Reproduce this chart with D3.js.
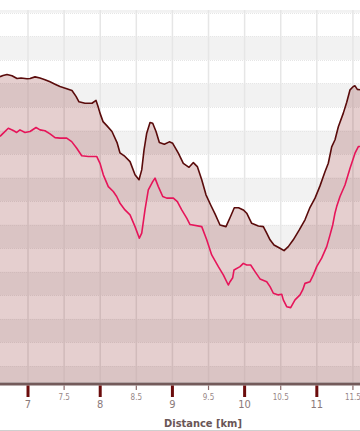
<!DOCTYPE html>
<html><head><meta charset="utf-8">
<script src="https://cdn.jsdelivr.net/npm/d3@7"></script>
<style>html,body{margin:0;padding:0;background:#fff;}svg{display:block;}</style>
</head><body>
<script>
// distance [km] for the upper (dark) profile
const upperKm = [6.612,6.654,6.709,6.778,6.848,6.903,6.986,7.028,7.097,7.166,7.235,7.305,7.374,7.443,7.526,7.609,7.665,7.706,7.789,7.886,7.942,7.970,7.997,8.039,8.094,8.163,8.233,8.274,8.343,8.413,8.482,8.537,8.575,8.607,8.644,8.690,8.727,8.773,8.819,8.888,8.957,9.004,9.082,9.151,9.230,9.290,9.345,9.406,9.465,9.530,9.590,9.659,9.742,9.805,9.857,9.916,9.982,10.029,10.098,10.190,10.259,10.306,10.352,10.407,10.490,10.546,10.605,10.674,10.757,10.836,10.906,10.975,11.044,11.113,11.159,11.206,11.252,11.298,11.367,11.414,11.460,11.505,11.529,11.561,11.598];
const upperVal = [132.9,133.4,133.8,133.3,132.1,132.3,132.0,132.1,132.8,132.3,131.6,130.7,129.7,128.7,127.9,127.0,124.5,122.2,121.6,121.6,122.8,120.2,117.4,113.8,112.0,109.6,104.9,100.5,99.0,96.8,91.2,89.1,93.3,101.8,108.9,113.4,113.1,109.6,104.9,104.2,105.2,104.6,100.4,96.1,94.4,96.4,94.7,89.1,82.7,78.4,74.6,69.9,69.2,73.5,77.2,77.2,76.3,74.9,70.6,69.5,69.2,66.4,63.6,61.4,60.0,59.0,60.7,63.6,67.8,72.1,77.4,81.3,86.5,92.5,96.1,103.1,106.1,111.6,117.4,122.0,127.3,128.7,129.0,127.5,127.3];
// distance [km] for the lower (crimson) line
const lowerKm = [6.612,6.658,6.727,6.796,6.843,6.889,6.958,7.028,7.111,7.166,7.235,7.305,7.374,7.443,7.536,7.605,7.675,7.744,7.835,7.951,7.997,8.043,8.112,8.181,8.228,8.274,8.343,8.413,8.482,8.542,8.575,8.620,8.666,8.727,8.759,8.805,8.866,8.921,9.013,9.068,9.129,9.198,9.244,9.406,9.475,9.544,9.636,9.705,9.774,9.798,9.835,9.853,9.936,9.982,10.029,10.084,10.144,10.213,10.306,10.352,10.398,10.467,10.514,10.536,10.583,10.638,10.698,10.767,10.804,10.836,10.906,10.952,10.998,11.067,11.137,11.183,11.220,11.252,11.275,11.321,11.390,11.460,11.529,11.575,11.598];
const lowerVal = [107.5,108.9,111.0,110.0,109.2,110.3,109.2,109.6,111.3,110.3,109.9,108.6,107.0,106.8,106.8,105.3,102.5,99.3,99.0,99.0,96.1,91.2,86.2,84.1,82.0,79.1,76.3,74.2,69.2,64.3,66.4,76.3,84.8,88.3,89.8,86.2,82.0,81.3,81.3,79.8,76.3,72.8,70.1,69.2,63.6,57.2,52.2,48.7,44.4,45.8,47.5,50.8,52.2,53.6,52.9,52.9,50.1,47.0,45.8,43.7,40.9,40.2,40.5,38.1,35.2,34.8,38.1,40.2,42.3,45.1,45.8,48.7,52.2,55.8,60.7,65.7,69.9,75.0,77.7,82.0,86.9,94.0,100.4,103.2,103.2];
const xTicks = [7,7.5,8,8.5,9,9.5,10,10.5,11,11.5];
const xTickLabels = ["7","7.5","8","8.5","9","9.5","10","10.5","11","11.5"];
const axisTitle = "Distance [km]";

const W = 360, H = 431;
const plotTop = 10, plotBottom = 382.5;
const x = d3.scaleLinear().domain([6.612, 11.598]).range([0, W]);
const y = d3.scaleLinear().domain([3.0, 161.2]).range([plotBottom, plotTop]);

const svg = d3.select("body").append("svg").attr("width", W).attr("height", H);
svg.append("defs").append("clipPath").attr("id","plot")
  .append("rect").attr("x",0).attr("y",plotTop).attr("width",W).attr("height",plotBottom-plotTop);

const g = svg.append("g").attr("clip-path","url(#plot)");
// alternating bands
const bands = d3.range(0, 170, 20);
g.selectAll("rect.band").data(bands).join("rect")
  .attr("x",0).attr("width",W)
  .attr("y", d => y(d+10)).attr("height", d => y(d) - y(d+10))
  .attr("fill","#f2f2f2");
// horizontal grid lines
g.selectAll("line.h").data(d3.range(10,170,10)).join("line")
  .attr("x1",0).attr("x2",W).attr("y1",d=>Math.round(y(d))+0.5).attr("y2",d=>Math.round(y(d))+0.5)
  .attr("stroke","#e6e6e6").attr("stroke-width",1).attr("stroke-dasharray","1,1");
// vertical grid lines
g.selectAll("line.v").data(xTicks).join("line")
  .attr("x1",d=>x(d)).attr("x2",d=>x(d)).attr("y1",plotTop).attr("y2",plotBottom)
  .attr("stroke","#e6e6e6").attr("stroke-width",1.5);

const upper = upperKm.map((k,i)=>[k, upperVal[i]]);
const lower = lowerKm.map((k,i)=>[k, lowerVal[i]]);

g.append("path").datum(upper)
  .attr("d", d3.area().x(d=>x(d[0])).y0(plotBottom).y1(d=>y(d[1])))
  .attr("fill","rgba(125,15,15,0.2)");
g.append("path").datum(lower)
  .attr("d", d3.line().x(d=>x(d[0])).y(d=>y(d[1])))
  .attr("fill","none").attr("stroke","#e6155a").attr("stroke-width",1.6).attr("stroke-linejoin","round");
g.append("path").datum(upper)
  .attr("d", d3.line().x(d=>x(d[0])).y(d=>y(d[1])))
  .attr("fill","none").attr("stroke","#5a0b0b").attr("stroke-width",1.6).attr("stroke-linejoin","round");

// axis
svg.append("line").attr("x1",0).attr("x2",W).attr("y1",384).attr("y2",384)
  .attr("stroke","#735a5a").attr("stroke-width",3);
const isMajor = d => Math.abs(d - Math.round(d)) < 1e-9;
svg.selectAll("line.tick").data(xTicks).join("line")
  .attr("x1",d=>x(d)).attr("x2",d=>x(d))
  .attr("y1",385.5).attr("y2",d=>isMajor(d)?397:390)
  .attr("stroke",d=>isMajor(d)?"#6b0c0c":"#8a6a6a")
  .attr("stroke-width",d=>isMajor(d)?3:1.2);
svg.selectAll("text.tl").data(xTicks).join("text")
  .attr("x",d=>x(d)).attr("y",d=>isMajor(d)?407.5:400)
  .attr("text-anchor","middle")
  .attr("font-family","'DejaVu Sans Condensed','DejaVu Sans',sans-serif")
  .attr("font-size",d=>isMajor(d)?11:8)
  .attr("fill",d=>isMajor(d)?"#8a7a7a":"#978787")
  .text((d,i)=>xTickLabels[i]);
svg.append("text").attr("x",203).attr("y",427)
  .attr("text-anchor","middle")
  .attr("font-family","'DejaVu Sans Condensed','DejaVu Sans',sans-serif")
  .attr("font-weight","bold").attr("font-size",11)
  .attr("fill","#6a5656").text(axisTitle);
svg.append("line").attr("x1",0).attr("x2",W).attr("y1",430.5).attr("y2",430.5)
  .attr("stroke","#cfcfcf").attr("stroke-width",1);
</script>
</body></html>
